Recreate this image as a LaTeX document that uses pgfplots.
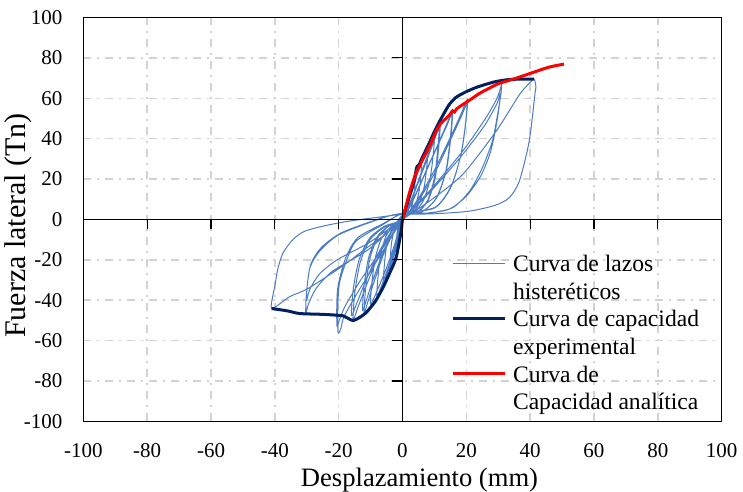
\documentclass[border=0pt]{standalone}
\usepackage{pgfplots}
\pgfplotsset{compat=1.18}
\usepackage{fontspec}
\setmainfont{Liberation Serif}
\definecolor{hyst}{RGB}{76,125,196}
\definecolor{navy}{RGB}{0,32,96}
\definecolor{gridc}{RGB}{210,210,210}
\begin{document}
\begin{tikzpicture}
\begin{axis}[
  scale only axis, width=319.2pt, height=202pt,
  xmin=-100, xmax=100, ymin=-100, ymax=100,
  xtick={-100,-80,...,100}, ytick={-100,-80,...,100},
  major tick length=0pt,
  axis line style={line width=0.6pt},
  grid=major,
  major grid style={color=gridc, line width=0.75pt, dash pattern=on 4pt off 3pt on 1pt off 3pt},
  /pgf/number format/assume math mode=true,
  tick label style={font=\fontsize{10.5}{12}\selectfont},
  xticklabel style={yshift=-7.5pt},
  yticklabel style={xshift=-7pt},
  xlabel={Desplazamiento (mm)},
  ylabel={Fuerza lateral (Tn)},
  xlabel style={font=\fontsize{13.3}{16}\selectfont, at={(axis description cs:0.5,0)}, anchor=base, yshift=-32.6pt, xshift=8.5pt},
  ylabel style={font=\fontsize{15}{17}\selectfont, at={(axis description cs:-0.1021,0.485)}, anchor=center},
  legend cell align=left,
  legend style={draw=none, fill=none, at={(axis description cs:0.577,0.4257)}, anchor=north west, inner sep=0pt, outer sep=0pt, font=\fontsize{11.8}{13.8}\selectfont, column sep=3.4pt, nodes={inner sep=0pt, text height=11.1pt, text depth=2.7pt}},
  legend image code/.code={\draw[#1] (0pt,0pt) -- (25.8pt,0pt);},
]
\coordinate (bl) at (rel axis cs:0,0);
\coordinate (tr) at (rel axis cs:1,1);
\addplot[hyst, line width=0.5pt, smooth, tension=0.45] coordinates {
(0,0)
(0.5,3.6) (1,6.8) (1.5,9.6) (2,12) (1.9,8.6) (1.7,5.4) (1.3,2.6) (0.7,1) (0,0.4)
(-0.5,-4.5) (-1,-8.6) (-1.5,-12) (-2,-15) (-1.9,-10.8) (-1.7,-6.8) (-1.3,-3.3) (-0.7,-1.2) (0,0)
(1,6.6) (2,12.5) (3,17.6) (4,22) (3.8,15.8) (3.4,9.9) (2.6,4.8) (1.4,1.8) (0,0.7)
(-1,-7.5) (-2,-14.3) (-3,-20) (-4,-25) (-3.8,-18) (-3.4,-11.3) (-2.6,-5.5) (-1.4,-2) (0,0)
(1.5,8.7) (3,16.5) (4.5,23.2) (6,29) (5.7,20.9) (5.1,13.1) (3.9,6.4) (2.1,2.3) (0,0.9)
(-1.5,-9.6) (-3,-18.2) (-4.5,-25.6) (-6,-32) (-5.7,-23) (-5.1,-14.4) (-3.9,-7) (-2.1,-2.6) (0,0)
(2,10.8) (4,20.5) (6,28.8) (8,36) (7.6,25.9) (6.8,16.2) (5.2,7.9) (2.8,2.9) (0,1.1)
(-2,-11.4) (-4,-21.7) (-6,-30.4) (-8,-38) (-7.6,-27.4) (-6.8,-17.1) (-5.2,-8.4) (-2.8,-3) (0,0)
(2.5,12.6) (5,23.9) (7.5,33.6) (10,42) (9.5,30.2) (8.5,18.9) (6.5,9.2) (3.5,3.4) (0,1.3)
(-2.5,-12.6) (-5,-23.9) (-7.5,-33.6) (-10,-42) (-9.5,-30.2) (-8.5,-18.9) (-6.5,-9.2) (-3.5,-3.4) (0,0)
(2.9,10.5) (5.8,22.9) (8.7,35.3) (10.4,42.9) (11.6,47.7) (11.1,35.8) (10.1,21.5) (7.9,9.5) (4.4,3.3) (0,1.9)
(-3,-6.9) (-6,-17.5) (-9,-31.3) (-10.8,-40.5) (-12,-46) (-11.5,-33.1) (-10.2,-19.3) (-7.8,-9.2) (-4.2,-3.2) (0,0)
(2.95,10.2) (5.9,22.3) (8.85,34.4) (10.6,41.9) (11.8,46.5) (11.3,34.9) (10.3,20.9) (8,9.3) (4.5,3.3) (0,1.9)
(-3.1,-6.8) (-6.25,-17.1) (-9.4,-30.6) (-11.25,-39.6) (-12.5,-45) (-12,-32.4) (-10.6,-18.9) (-8.1,-9) (-4.4,-3.2) (0,0)
(3.9,11.8) (7.85,25.7) (11.8,39.6) (14.1,48.2) (15.7,53.5) (15.1,40.1) (13.7,24.1) (10.7,10.7) (6,3.7) (0,2.1)
(-3.9,-7.5) (-7.75,-18.9) (-11.6,-33.8) (-14,-43.7) (-15.5,-49.7) (-14.9,-35.8) (-13.2,-20.9) (-10.1,-9.9) (-5.4,-3.5) (0,0)
(3.9,11.4) (7.75,25) (11.6,38.5) (14,46.8) (15.5,52) (14.9,39) (13.5,23.4) (10.5,10.4) (5.9,3.6) (0,2.1)
(-4,-7.1) (-8,-18) (-12,-32.3) (-14.4,-41.8) (-16,-47.5) (-15.4,-34.2) (-13.6,-20) (-10.4,-9.5) (-5.6,-3.3) (0,0)
(5.1,10.7) (10.2,25) (15.3,41.7) (18.4,52.4) (20.4,59.5) (19.8,47.6) (18.4,32.7) (15.3,16.7) (10.2,6) (0,3)
(-6.1,-2.5) (-14.5,-10.7) (-17.6,-20.6) (-19.8,-32) (-20.3,-45) (-20.2,-56) (-19.3,-54) (-18.3,-48) (-14,-36) (-11.3,-29) (-5.1,-13) (0,0)
(5.05,9.5) (10.1,23) (15.2,39.9) (18.2,50.2) (20.2,57) (19.6,45.6) (18.2,31.4) (15.2,16) (10.1,5.7) (0,2.9)
(-6,-2) (-14,-9) (-17.8,-19) (-20.2,-33) (-20.6,-44) (-20.5,-53) (-19.8,-50) (-18,-43) (-13.5,-31) (-10.5,-24) (-4.8,-11) (0,0)
(8.4,14) (18.8,33.7) (26.1,50.2) (29.6,60) (30.9,66) (31,67.5) (31.1,66) (30.8,61.7) (29.8,52) (28.2,39) (25,25.5) (21,14) (15.7,5.8) (8,3.2) (0,3)
(-6.1,0.8) (-19.7,-7.4) (-25.9,-15.6) (-29,-23.9) (-30.1,-37) (-30.3,-46.5) (-29.5,-42) (-27,-34) (-21.8,-25.5) (-11.3,-15.6) (-5,-7) (0,0)
(8,12.5) (18,30.5) (25.5,46) (29.5,57) (30.6,62) (30.2,55) (29.2,45) (27.5,33) (24.5,21.5) (20,11.5) (14.5,5) (7,3) (0,3)
(-6,1) (-19,-6.5) (-25.5,-14) (-28.7,-22) (-29.8,-32) (-30.1,-40) (-29,-34.5) (-26,-27) (-20.5,-20) (-11,-12) (-5,-5.5) (0,0)
(8.4,9) (18.8,22.2) (29.3,43.6) (36.6,61.7) (39.5,67) (41.2,69.5) (41.8,65.8) (41.5,62) (39.7,38.7) (36.6,18.9) (33.4,10.7) (29,7) (20.9,4.1) (10,2.8) (0,2.5)
(-8,1) (-16.6,-0.8) (-24,-3) (-30.6,-5.8) (-34.3,-9.9) (-37.4,-16.5) (-39,-24) (-40,-33) (-41,-44) (-35.3,-38.2) (-29.6,-34.2) (-18.7,-23) (-12,-15) (-6.1,-8.2) (0,0)
};
\addlegendentry{Curva de lazos}
\addlegendimage{empty legend}
\addlegendentry{histeréticos}
\addplot[navy, line width=1.5pt, smooth, tension=0.4] coordinates {
(-41,-44.1) (-36,-45.3) (-32.2,-46.6) (-25,-47) (-20.7,-47.4) (-18.7,-47.7) (-17,-49) (-15.5,-50.1) (-13.5,-48.6) (-11.3,-46) (-8.5,-40.5) (-6.1,-33.7) (-4,-26.5) (-2,-18.9) (-0.4,-5.8) (0,0)
(1.5,8) (3.2,16.4) (3.8,20) (4.3,24.7) (4.6,26.3) (5.2,27) (6,30) (7.4,34.6) (8.4,37.9) (10,43.5) (11.6,48.5) (13,52.5) (14.7,57) (16.8,60.5) (19.9,63.2) (23,65.3) (26.1,66.9) (29.3,68.3) (33,69.2) (37,69.5) (41.2,69.5)
};
\addlegendentry{Curva de capacidad}
\addlegendimage{empty legend}
\addlegendentry{experimental}
\addplot[red, line width=1.5pt, smooth, tension=0.4] coordinates {
(0,0) (1,6) (2.2,13.2) (4,22) (6.3,29.6) (8.4,36) (10.5,43.6) (12.1,47.7) (14,50.5) (15,52.3) (15.7,53.8) (16.3,53.2) (17,54.8) (19,57) (22,60.1) (24.1,62.4) (27.2,65) (30,67.2) (34.5,69.4) (38.7,71.6) (45.9,75.4) (50.6,76.9)
};
\addlegendentry{Curva de}
\addlegendimage{empty legend}
\addlegendentry{Capacidad analítica}
\end{axis}
\begin{axis}[
  scale only axis, width=319.2pt, height=202pt,
  xmin=-100, xmax=100, ymin=-100, ymax=100,
  axis lines=middle,
  axis line style={-, line width=0.75pt, black},
  xtick={-80,-60,...,80}, ytick={-80,-60,...,80},
  xticklabels={}, yticklabels={},
  tick align=outside,
  major tick length=5pt,
  tick style={black, line width=0.6pt},
]
\end{axis}
\pgfresetboundingbox
\path ([xshift=-41.7pt,yshift=-35.2pt]bl) rectangle ([xshift=10.7pt,yshift=8.75pt]tr);
\end{tikzpicture}
\end{document}
